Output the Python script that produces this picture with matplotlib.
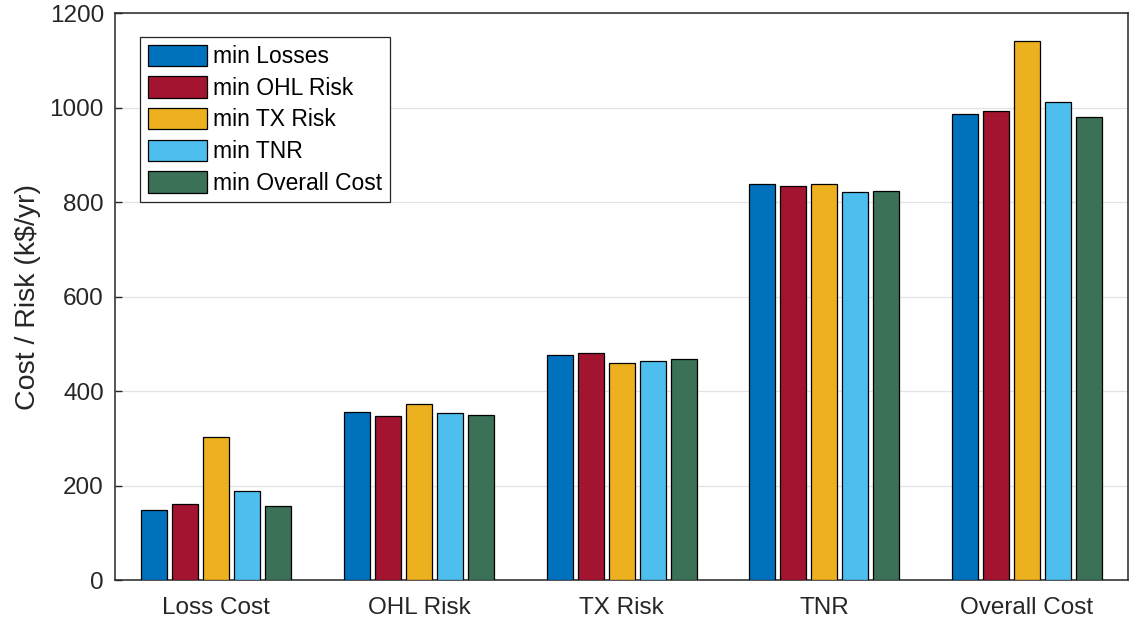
import numpy as np
import matplotlib.pyplot as plt

plt.rcParams['font.family'] = ['Liberation Sans', 'DejaVu Sans']

categories = ['Loss Cost', 'OHL Risk', 'TX Risk', 'TNR', 'Overall Cost']
series_names = ['min Losses', 'min OHL Risk', 'min TX Risk', 'min TNR', 'min Overall Cost']
min_losses = [149, 355, 476, 838, 986]
min_ohl_risk = [160, 347, 480, 834, 993]
min_tx_risk = [302, 372, 460, 839, 1140]
min_tnr = [188, 353, 463, 822, 1011]
min_overall_cost = [156, 349, 468, 823, 979]
yticks = [0, 200, 400, 600, 800, 1000, 1200]

series = [min_losses, min_ohl_risk, min_tx_risk, min_tnr, min_overall_cost]
colors = ['#0072BD', '#A2142F', '#EDB120', '#4DBEEE', '#3B7157']

fig = plt.figure(figsize=(11.31, 6.23), dpi=100)
ax = fig.add_axes([0.1017, 0.069, 0.8957, 0.910])

x = np.arange(1, len(categories) + 1)
step = 0.153
width = 0.128
for k, (vals, name, c) in enumerate(zip(series, series_names, colors)):
    ax.bar(x + (k - 2) * step, vals, width, color=c, edgecolor='black',
           linewidth=0.9, label=name, zorder=3)

ax.set_xlim(0.5, 5.5)
ax.set_ylim(0, 1200)
ax.set_xticks(x)
ax.set_xticklabels(categories)
ax.set_yticks(yticks)
ax.yaxis.grid(True, color='#e3e3e3', linewidth=0.9, zorder=0)
ax.set_axisbelow(True)
ax.tick_params(direction='in', length=5, width=1, labelsize=17.5, colors='#262626',
               labelcolor='#262626', top=False, right=False)
ax.tick_params(axis='y', pad=8)
ax.tick_params(axis='x', length=0, pad=12)
for s in ax.spines.values():
    s.set_color('#262626')
    s.set_linewidth(1.1)
ax.set_ylabel(r'Cost / Risk (k\$/yr)', fontsize=20.5, color='#262626', labelpad=6)

leg = ax.legend(loc='upper left', bbox_to_anchor=(0.0247, 0.9577), fontsize=16.5,
                handlelength=2.6, handleheight=1.05, handletextpad=0.27,
                labelspacing=0.36, borderpad=0.33, borderaxespad=0.0,
                fancybox=False, framealpha=1, edgecolor='#262626')
leg.get_frame().set_linewidth(0.9)

fig.savefig('out.png', dpi=100)
